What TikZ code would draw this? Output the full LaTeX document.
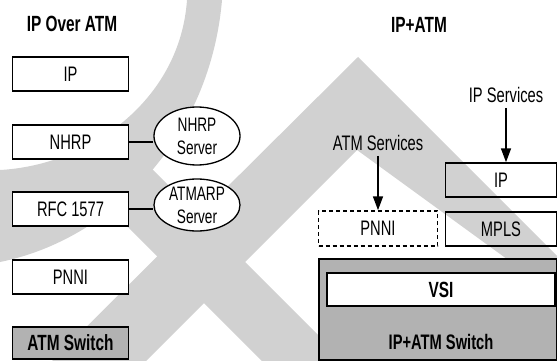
\documentclass[tikz,border=0pt]{standalone}
\usepackage{fontspec}
\setmainfont{Liberation Sans}[FakeStretch=0.70]
\usetikzlibrary{arrows.meta,shapes.geometric}
\definecolor{wmgray}{gray}{0.82}
\definecolor{dither}{gray}{0.70}
\tikzset{
  plainbox/.style={draw, line width=1.5pt, inner sep=0pt, font=\fontsize{21}{23}\selectfont},
  leftbox/.style={plainbox, fill=white, minimum width=116pt, minimum height=34pt},
  srvoval/.style={ellipse, draw, line width=1.3pt, fill=white, minimum width=86pt, inner sep=0pt, align=center, font=\fontsize{19.5}{23}\selectfont},
  titletext/.style={font=\fontsize{22}{24}\selectfont\bfseries, inner sep=0pt},
  svctext/.style={font=\fontsize{21}{23}\selectfont, inner sep=0pt},
  boldlabel/.style={font=\fontsize{21}{23}\selectfont\bfseries},
  link/.style={line width=1.2pt},
  svcarrow/.style={line width=1.6pt, -{Triangle[length=14pt,width=10pt]}},
}
\begin{document}
\begin{tikzpicture}[x=1pt,y=-1pt]
\useasboundingbox (0,0) rectangle (557,361);
% watermark shapes
\fill[wmgray] (187,0) .. controls (180,100) and (90,165) .. (0,170) -- (0,262) .. controls (110,240) and (210,140) .. (222,0) -- cycle;
\fill[wmgray] (130,147) -- (352,369) -- (270,369) -- (70,169) -- cycle;
\fill[wmgray] (44,369) -- (358,57) -- (566,265) -- (566,302) -- (357,150) -- (138,369) -- cycle;
% left: IP over ATM
\node[titletext] (t1) at (72,24) {IP Over ATM};
\node[leftbox] (ip1) at (70.5,74) {IP};
\node[leftbox] (nhrp) at (70.5,142) {NHRP};
\node[leftbox] (rfc) at (70.5,209) {RFC 1577};
\node[leftbox] (pnni1) at (70.5,277) {PNNI};
\node[leftbox, fill=dither, minimum height=32pt, font=\fontsize{22}{24}\selectfont\bfseries] (atmsw) at (70.5,343) {ATM Switch};
\node[srvoval, minimum height=58pt] (nhrps) at (197,136) {NHRP\\Server};
\node[srvoval, minimum height=52pt] (atmarps) at (197,205) {ATMARP\\Server};
\draw[link] (nhrp.east) -- (nhrp.east -| nhrps.west);
\draw[link] (rfc.east) -- (rfc.east -| atmarps.west);
% right: IP+ATM
\node[titletext] (t2) at (419,25) {IP+ATM};
\node[svctext] (ipsvc) at (506,95) {IP Services};
\node[svctext] (atmsvc) at (378,143) {ATM Services};
\node[plainbox, minimum width=111pt, minimum height=34pt] (ip2) at (501,180) {IP};
\node[plainbox, minimum width=111pt, minimum height=34pt] (mpls) at (501,229) {MPLS};
\node[plainbox, dash pattern=on 4pt off 3pt, minimum width=119pt, minimum height=35pt] (pnni2) at (378,228.5) {PNNI};
\node[plainbox, fill=dither, minimum width=238pt, minimum height=101pt] (ipatmsw) at (438,309.5) {};
\node[plainbox, font=\fontsize{22}{24}\selectfont\bfseries, fill=white, minimum width=228pt, minimum height=33pt] (vsi) at (441,289.5) {VSI};
\node[boldlabel, inner sep=0pt] (swlabel) at (441,342) {IP+ATM Switch};
\draw[svcarrow] ([yshift=-5pt]atmsvc.south) -- (pnni2.north);
\draw[svcarrow] ([yshift=-5pt]ipsvc.south) -- (ipsvc.south |- ip2.north);
\end{tikzpicture}
\end{document}
